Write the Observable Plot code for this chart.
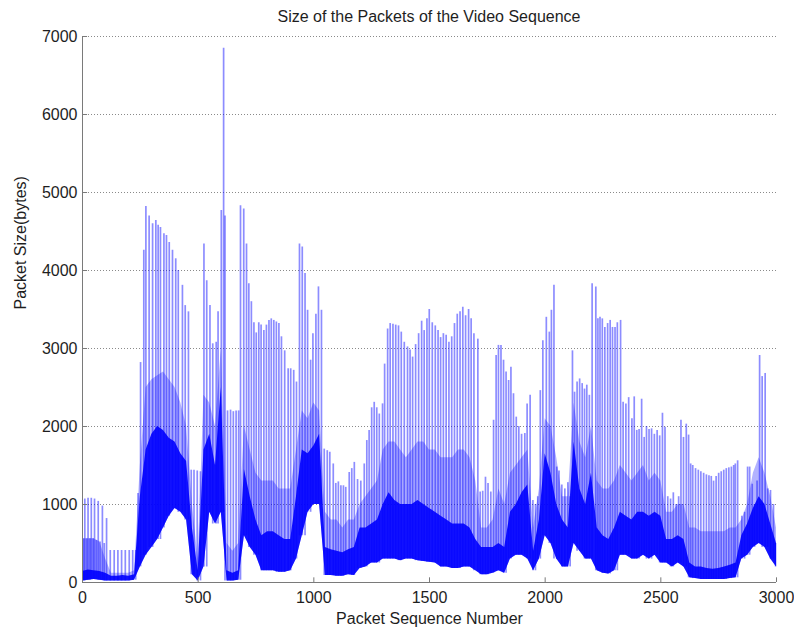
<!DOCTYPE html>
<html>
<head>
<meta charset="utf-8">
<script src="https://cdn.jsdelivr.net/npm/d3@7"></script>
<script src="https://cdn.jsdelivr.net/npm/@observablehq/plot@0.6"></script>
<style>
  body { margin: 0; background: #fff; font-family: "Liberation Sans", Arial, sans-serif; }
  #title { height: 28px; box-sizing: border-box; padding: 9px 0 0 64px; text-align: center;
           font-size: 16px; line-height: 16px; color: #1e1e1e; }
  #chart svg { display: block; }
</style>
</head>
<body>
<div id="title">Size of the Packets of the Video Sequence</div>
<div id="chart"></div>
<script>
// Axis ticks
const xTicks = [0, 500, 1000, 1500, 2000, 2500, 3000];
const yTicks = [0, 1000, 2000, 3000, 4000, 5000, 6000, 7000];

// Large packets (frame starts): sequence number and size in bytes
const peakPacket = [
  4, 10, 18, 24, 32, 38, 46, 52, 60, 68, 76, 86, 94, 104, 120, 137, 153, 169, 185, 202, 217, 230, 240,
  251, 265, 274, 288, 303, 317, 327, 337, 352, 363, 375, 389, 403, 414, 432, 444, 458,
  470, 482, 496, 510, 525, 537, 551, 563, 578, 586, 600, 610, 616,
  627, 640, 652, 664, 675,
  683, 697, 709, 719, 730, 741, 751, 762, 772, 784, 795, 806, 816, 827, 838, 849, 860, 874, 889, 900, 913, 925,
  938, 950, 962, 973, 986, 996, 1009, 1020, 1033,
  1045, 1058, 1069, 1084, 1095, 1106, 1117, 1128, 1138, 1153, 1164, 1175, 1189, 1203, 1218, 1229, 1239, 1250,
  1261, 1272, 1283, 1297, 1306, 1319, 1330, 1342, 1354, 1366, 1378, 1391, 1405, 1416, 1427, 1440, 1453, 1466,
  1477, 1489, 1499, 1512, 1525, 1537, 1548, 1560, 1572, 1584, 1596, 1608, 1620, 1632, 1644, 1656, 1669, 1680,
  1692, 1709,
  1719, 1730, 1742, 1753, 1765, 1777, 1788, 1798, 1809, 1820, 1831, 1842, 1852, 1863, 1875, 1886, 1898, 1912,
  1922, 1935, 1947, 1958, 1968, 1979, 1990, 2005, 2018, 2027, 2038,
  2050, 2060, 2072, 2085, 2098, 2108, 2118, 2127, 2138, 2149, 2160, 2170, 2180, 2191, 2203, 2219, 2228, 2237,
  2247, 2258, 2270, 2281, 2291, 2302, 2312, 2326, 2337, 2349, 2361, 2375, 2385, 2396, 2406, 2417, 2428, 2438,
  2449, 2460, 2472, 2484, 2495, 2507, 2518,
  2530, 2542, 2554, 2566, 2577, 2587, 2598, 2610, 2620, 2629, 2638, 2650, 2662, 2673, 2685, 2697, 2708, 2718,
  2728, 2739, 2750, 2761, 2772, 2783, 2794, 2805, 2815, 2822, 2832,
  2850, 2862, 2875, 2884, 2895, 2905, 2916, 2927, 2938, 2951, 2962, 2974, 2987, 2996
];
const peakSize = [
  560, 1070, 560, 1080, 560, 1080, 560, 1070, 540, 1040, 520, 980, 500, 820, 410, 410, 410, 410, 410, 410, 410, 410, 1140,
  2820, 4260, 4820, 4700, 4600, 4640, 4580, 4550, 4470, 4450, 4360, 4260, 4150, 4000, 3810, 3550, 3470,
  1440, 1440, 1430, 1420, 4340, 3870, 3550, 3060, 3080, 3470, 4770, 6850, 4700,
  2200, 2210, 2190, 2200, 2200,
  4830, 4790, 4340, 3830, 3600, 3330, 3200, 3330, 3300, 3230, 3300, 3360, 3380, 3360, 3340, 3320, 3150, 2970, 2740, 2740, 2720, 2570,
  4340, 4300, 3960, 3490, 2850, 3190, 3440, 3790, 3490,
  1710, 1690, 1670, 1520, 1270, 1290, 1240, 1240, 1220, 1410, 1460, 1540, 1320, 1300, 1520, 1820, 1950, 2240,
  2310, 2240, 2160, 2290, 2800, 3250, 3320, 3310, 3300, 3290, 3210, 3080, 3020, 2980, 2890, 3050, 3190, 3350,
  3230, 3380, 3500, 3330, 3290, 3230, 3140, 3190, 3170, 3080, 3150, 3320, 3440, 3470, 3530, 3420, 3500, 3380,
  3190, 3120,
  1160, 1170, 1350, 1270, 1160, 2080, 2910, 3040, 3040, 2850, 2700, 2590, 2760, 2420, 2120, 2000, 1900, 1910,
  2290, 2400, 1050, 1000, 1100, 2460, 3100, 3400, 3210, 3490, 3810,
  1480, 1430, 1250, 1200, 1280, 1100, 2970, 2440, 2570, 2610, 2550, 2480, 2530, 2400, 3830, 3790, 3380, 3400,
  3380, 3270, 3320, 3360, 3270, 3270, 3330, 3360, 2310, 2290, 2370, 2100, 2380, 1950, 1960, 2350, 1860, 2000,
  1960, 1970, 1900, 1950, 1880, 2170, 1990,
  1100, 1070, 1150, 1000, 1100, 2080, 1860, 2030, 1890, 1520, 1500, 1460, 1440, 1420, 1400, 1380, 1370, 1360,
  1300, 1360, 1400, 1420, 1440, 1460, 1470, 1480, 1500, 1520, 1560,
  850, 900, 1480, 1480, 1260, 1000, 1300, 2910, 2640, 2680, 1200, 1180, 1000, 500
];

// Dense body of the trace, sampled every 25 packets (0 … 3000):
// lower edge, upper edge of the dark core, and upper edge of the lighter mid-size packets
const bandLow = [
  20, 30, 40, 30, 20, 20, 20, 20, 20, 30, 200, 350, 450, 550, 700, 850, 950, 900, 800, 100,
  20, 200, 900, 750, 900, 20, 20, 30, 600, 450, 350, 150, 150, 150, 130, 130, 150, 300, 600, 900,
  1000, 1000, 90, 90, 80, 80, 100, 90, 180, 200, 250, 250, 300, 300, 300, 280, 300, 300, 280, 270,
  260, 250, 200, 200, 180, 180, 200, 200, 150, 100, 100, 120, 150, 120, 300, 350, 350, 300, 150, 300,
  600, 500, 300, 200, 200, 500, 400, 300, 300, 150, 120, 110, 150, 350, 350, 300, 300, 350, 300, 350,
  250, 250, 200, 250, 200, 60, 50, 40, 40, 40, 40, 40, 50, 60, 300, 350, 450, 500, 450, 300, 200
];
const bandHigh = [
  140, 160, 150, 140, 120, 80, 80, 90, 80, 100, 1100, 1700, 1900, 2000, 1950, 1850, 1800, 1650, 1550, 700,
  150, 1700, 1900, 1500, 2500, 150, 120, 150, 1450, 1100, 800, 600, 650, 650, 600, 550, 550, 1100, 1700, 1650,
  1750, 1900, 450, 420, 400, 380, 420, 450, 700, 700, 750, 800, 1000, 1150, 1050, 1000, 1000, 1000, 1050, 1000,
  950, 900, 850, 800, 750, 750, 750, 700, 550, 450, 450, 450, 500, 450, 900, 1000, 1150, 1250, 400, 800,
  1650, 1400, 1000, 800, 700, 1800, 1200, 1000, 1400, 700, 600, 550, 700, 900, 850, 800, 900, 900, 850, 900,
  850, 550, 550, 600, 550, 250, 200, 200, 180, 170, 180, 200, 220, 250, 600, 750, 950, 1100, 1000, 750, 500
];
const bandMid = [
  560, 560, 560, 520, 300, 120, 120, 120, 120, 150, 1500, 2500, 2600, 2650, 2700, 2600, 2500, 2300, 2000, 1000,
  300, 2400, 2300, 2000, 3000, 500, 400, 500, 2000, 1700, 1400, 1300, 1300, 1300, 1200, 1200, 1200, 1700, 2200, 2100,
  2300, 2200, 900, 800, 800, 700, 800, 800, 1000, 1100, 1200, 1300, 1700, 1800, 1800, 1700, 1600, 1700, 1800, 1800,
  1700, 1700, 1600, 1600, 1600, 1700, 1700, 1600, 1300, 700, 700, 800, 1200, 1000, 1400, 1500, 1600, 1700, 700, 1200,
  2100, 2000, 1600, 1100, 1100, 2300, 1800, 1600, 2000, 1300, 1200, 1200, 1300, 1500, 1400, 1300, 1400, 1500, 1300, 1400,
  1300, 900, 900, 1000, 1000, 700, 700, 650, 650, 650, 650, 650, 700, 700, 800, 1000, 1400, 1600, 1400, 1100, 700
];

const bandPacket = d3.range(0, 3001, 25);
const band = bandPacket.map((packet, i) => ({packet, low: bandLow[i], high: bandHigh[i], mid: bandMid[i]}));

// each large packet rises from the body of the trace beneath it
const spikes = peakPacket.map((packet, i) => ({
  packet,
  size: peakSize[i],
  base: bandLow[Math.min(bandLow.length - 1, Math.round(packet / 25))]
}));

const axisGray = "#7a7a7a";
const blue = "#0000ff";

const chart = Plot.plot({
  width: 794,
  height: 599,
  marginTop: 8,
  marginRight: 18,
  marginBottom: 45,
  marginLeft: 82,
  style: {fontFamily: "'Liberation Sans', Arial, sans-serif", fontSize: "16px", color: "#1e1e1e", background: "#fff", overflow: "visible"},
  x: {domain: [0, 3000]},
  y: {domain: [0, 7000]},
  marks: [
    Plot.ruleY(yTicks.filter(d => d > 0), {stroke: "#8a8a8a", strokeDasharray: "1,2"}),
    Plot.areaY(band, {x: "packet", y1: "low", y2: "mid", fill: blue, fillOpacity: 0.3}),
    Plot.ruleX(spikes, {x: "packet", y1: "base", y2: "size", stroke: blue, strokeOpacity: 0.45, strokeWidth: 1.7}),
    Plot.areaY(band, {x: "packet", y1: "low", y2: "high", fill: blue, fillOpacity: 0.9}),
    Plot.ruleX([0], {stroke: axisGray}),
    Plot.ruleY([0], {stroke: axisGray}),
    Plot.ruleX(xTicks, {y1: 0, y2: 60, stroke: axisGray}),
    Plot.ruleY(yTicks, {x1: 0, x2: 22, stroke: axisGray}),
    Plot.axisX(xTicks, {tickSize: 0, tickPadding: 9, fontSize: 16, label: null, tickFormat: d => String(d)}),
    Plot.axisY(yTicks, {tickSize: 0, tickPadding: 5, fontSize: 16, label: null, tickFormat: d => String(d)}),
    Plot.text(["Packet Sequence Number"], {frameAnchor: "bottom", dy: 41, fontSize: 16}),
    Plot.text(["Packet Size(bytes)"], {frameAnchor: "left", dx: -62, rotate: -90, fontSize: 16})
  ]
});
document.getElementById("chart").appendChild(chart);
</script>
</body>
</html>
